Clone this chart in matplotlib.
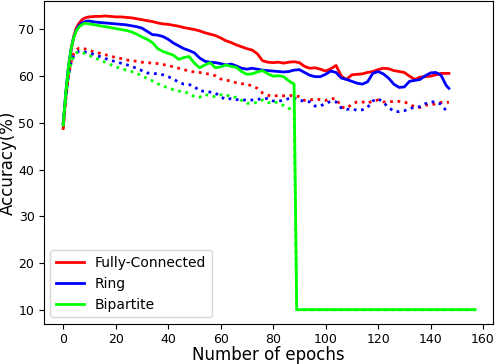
import matplotlib
matplotlib.use("Agg")
import matplotlib.pyplot as plt

# epochs for Fully-Connected / Ring
epochs = list(range(0, 11)) + list(range(12, 147, 2)) + [147]
# epochs for Bipartite (collapses after epoch 88)
epochs_bip = list(range(0, 11)) + list(range(12, 89, 2)) + [89, 157]

fc_solid = [48.8, 56, 61.5, 65.5, 68.5, 70.3, 71.3, 72.0, 72.4, 72.6, 72.7,
            72.8, 72.8, 72.9, 72.8, 72.7, 72.7, 72.6, 72.5, 72.3, 72.1, 71.9, 71.7, 71.4, 71.2, 71.1,
            70.9, 70.7, 70.4, 70.2, 70.0, 69.7, 69.3, 69.0, 68.7, 68.2, 67.6, 67.2, 66.7, 66.3, 65.9,
            65.6, 64.8, 63.3, 63.0, 62.9, 63.0, 62.8, 63.0, 63.1, 62.9, 62.1, 61.7, 61.8, 61.5, 61.1,
            61.6, 62.3, 60.0, 59.3, 60.3, 60.4, 60.5, 60.8, 61.0, 61.4, 61.7, 61.6, 61.2, 61.0, 60.8,
            60.0, 59.3, 59.8, 59.9, 60.0, 60.3, 60.6, 60.6, 60.6]
fc_dotted = [48.8, 55, 60, 63, 64.8, 65.6, 66.0, 66.0, 65.9, 65.7, 65.5,
             65.2, 64.9, 64.6, 64.3, 64.0, 63.8, 63.5, 63.3, 63.2, 63.0, 62.9, 62.8, 62.7, 62.5, 62.3,
             62.0, 61.7, 61.4, 61.1, 60.9, 60.8, 60.6, 60.4, 60.1, 59.4, 59.2, 58.9, 58.6, 58.4, 58.3,
             57.9, 57.4, 56.4, 55.9, 55.8, 55.8, 55.8, 55.8, 55.9, 55.6, 54.8, 54.9, 55.1, 55.0, 54.8,
             55.2, 55.2, 53.4, 53.1, 54.0, 54.5, 54.5, 54.2, 54.7, 54.9, 54.5, 54.5, 54.6, 54.6, 54.5,
             54.0, 53.4, 53.3, 53.8, 53.8, 54.1, 54.4, 54.4, 54.4]
ring_solid = [49.8, 56.5, 62, 65.8, 68.3, 69.8, 70.8, 71.3, 71.6, 71.8, 71.8,
              71.6, 71.5, 71.4, 71.3, 71.2, 71.1, 71.0, 70.8, 70.6, 70.3, 69.6, 68.9, 68.8, 68.5, 67.9,
              67.1, 66.5, 65.9, 65.5, 65.0, 63.9, 63.2, 63.0, 62.9, 62.7, 62.4, 62.6, 62.2, 61.7, 61.5,
              61.7, 61.5, 61.3, 61.2, 61.1, 61.0, 60.9, 61.0, 61.3, 61.4, 60.8, 60.2, 59.9, 59.9, 60.4,
              61.1, 60.8, 59.6, 59.3, 58.9, 58.5, 58.3, 58.8, 60.6, 61.0, 60.5, 59.6, 58.3, 57.6, 57.7,
              58.9, 59.1, 59.3, 60.1, 60.7, 60.8, 60.2, 58.0, 57.4]
ring_dotted = [49.8, 55.5, 60, 62.8, 64.3, 65.0, 65.3, 65.3, 65.2, 65.1, 65.0,
               64.6, 64.2, 63.8, 63.4, 63.1, 62.8, 62.5, 62.1, 61.7, 61.2, 60.7, 60.6, 60.5, 60.3, 59.9,
               59.4, 58.7, 58.3, 58.2, 57.8, 56.8, 56.8, 56.6, 56.4, 55.6, 55.0, 55.2, 55.0, 54.9, 54.9,
               54.9, 55.0, 55.2, 55.2, 54.7, 54.6, 54.9, 55.2, 55.3, 54.9, 54.6, 54.5, 53.6, 53.6, 54.2,
               54.6, 54.5, 53.2, 52.9, 53.0, 52.7, 52.8, 53.3, 54.7, 55.2, 54.4, 53.3, 52.5, 52.4, 52.6,
               53.1, 53.3, 53.5, 54.1, 54.5, 54.5, 54.0, 52.6, 52.2]
bip_solid = [49.5, 56.5, 62, 65.8, 68.2, 69.7, 70.5, 71.0, 71.3, 71.3, 71.2,
             71.0, 70.8, 70.6, 70.4, 70.2, 70.0, 69.8, 69.5, 69.0, 68.4, 67.9, 67.2, 65.9, 65.3, 64.9,
             64.5, 63.6, 64.0, 64.2, 62.8, 61.8, 62.4, 62.9, 61.8, 62.0, 62.4, 62.1, 61.9, 61.0, 60.4,
             60.5, 60.9, 61.2, 60.5, 60.0, 60.1, 59.9, 59.0, 58.3, 10.0, 10.0]
bip_dotted = [49.5, 55.5, 60, 62.8, 64.3, 65.0, 65.2, 65.1, 64.9, 64.6, 64.4,
              64.0, 63.4, 63.0, 62.5, 62.0, 61.6, 61.3, 61.0, 60.6, 60.1, 59.5, 59.0, 58.4, 57.9, 57.5,
              57.1, 56.8, 56.7, 56.3, 55.6, 55.5, 56.1, 55.8, 55.6, 56.0, 56.1, 55.5, 55.5, 54.8, 54.2,
              54.2, 54.4, 54.9, 54.3, 54.5, 54.3, 53.7, 53.1, 53.0, 10.0, 10.0]

labels = ["Fully-Connected", "Ring", "Bipartite"]
colors = ["#ff0000", "#0000ff", "#00ff00"]

fig = plt.figure(figsize=(4.96, 3.64), dpi=100)
ax = fig.add_axes([43.5 / 496, 40 / 364, 450 / 496, 323 / 364])

lw = 2.0
series = [(epochs, fc_solid, fc_dotted), (epochs, ring_solid, ring_dotted),
          (epochs_bip, bip_solid, bip_dotted)]
for (x, s, d), lab, c in zip(series, labels, colors):
    ax.plot(x, s, color=c, lw=lw, label=lab)
    ax.plot(x, d, color=c, lw=lw, linestyle=":")

ax.set_xlim(-7.5, 164)
ax.set_ylim(6.94, 76.1)
ax.set_xticks(range(0, 161, 20))
ax.set_yticks(range(10, 71, 10))
ax.tick_params(labelsize=9, pad=3)
ax.set_xlabel("Number of epochs", fontsize=12, labelpad=0)
ax.set_ylabel("Accuracy(%)", fontsize=12, labelpad=1)
ax.legend(loc="lower left", fontsize=10)

fig.savefig("out.png", dpi=100)
